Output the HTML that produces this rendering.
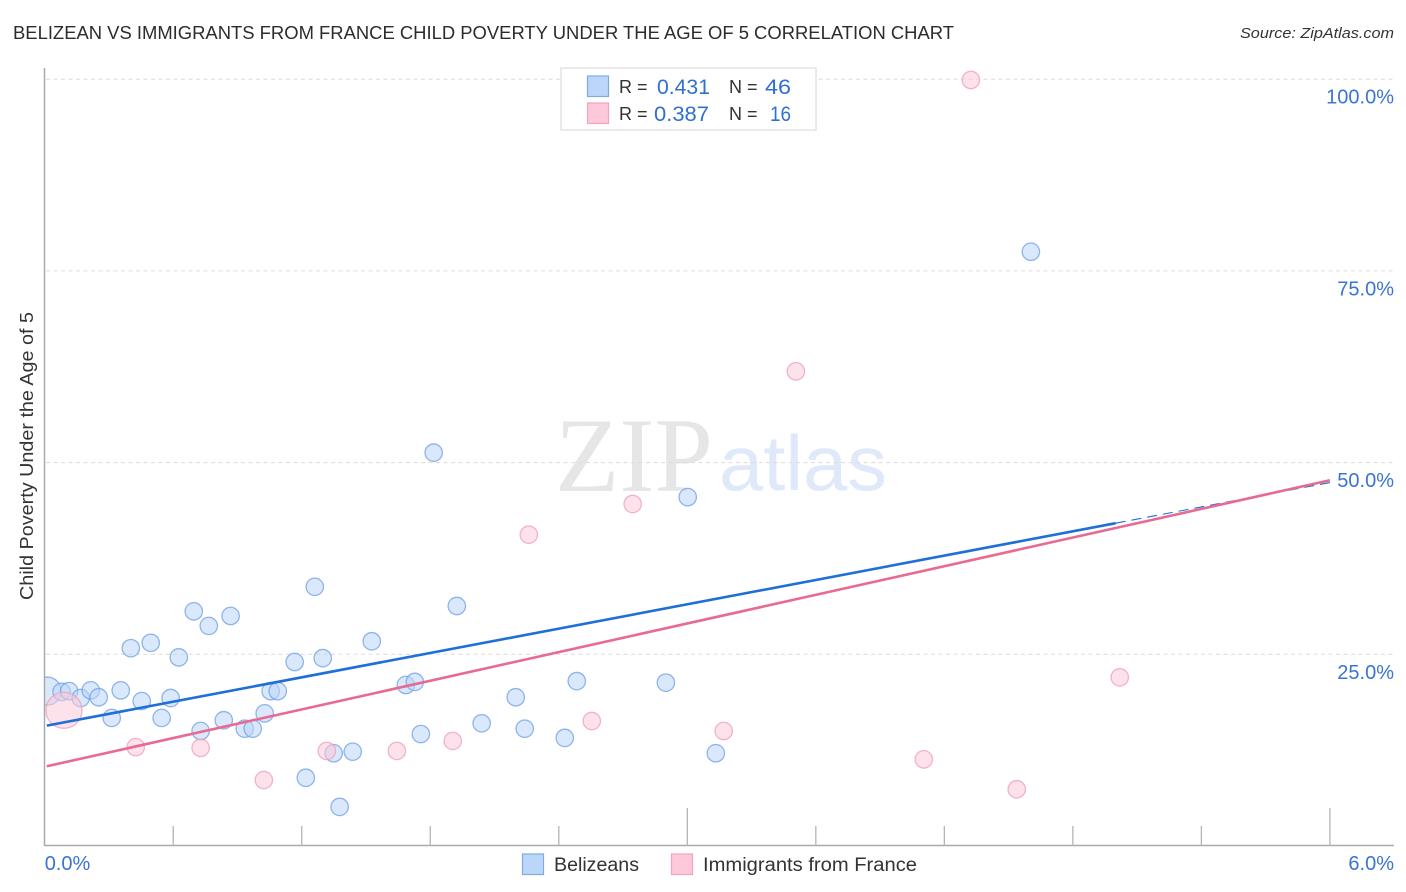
<!DOCTYPE html>
<html lang="en">
<head>
<meta charset="utf-8">
<title>Belizean vs Immigrants from France Child Poverty Under the Age of 5 Correlation Chart</title>
<style>
html,body{margin:0;padding:0;background:#fff;width:1406px;height:892px;overflow:hidden}
svg{display:block}
text{font-family:"Liberation Sans",sans-serif}
</style>
</head>
<body>
<svg id="chart" xmlns="http://www.w3.org/2000/svg" width="1406" height="892" viewBox="0 0 1406 892">
  <text x="13" y="39" font-size="18.5" fill="#2b2b30" textLength="941" lengthAdjust="spacingAndGlyphs">BELIZEAN VS IMMIGRANTS FROM FRANCE CHILD POVERTY UNDER THE AGE OF 5 CORRELATION CHART</text>
  <text x="1394" y="38" font-size="15" font-style="italic" fill="#333" text-anchor="end" textLength="154" lengthAdjust="spacingAndGlyphs">Source: ZipAtlas.com</text>

  <g>
    <text x="555" y="491" font-size="106" fill="#e6e6e6" textLength="158" lengthAdjust="spacingAndGlyphs" style="font-family:'Liberation Serif',serif">ZIP</text>
    <text x="719" y="490" font-size="78" fill="#dfe9fa" textLength="168" lengthAdjust="spacingAndGlyphs">atlas</text>
  </g>

  <g id="grid"></g>
  <g id="bluePts"></g>
  <g id="pinkPts"></g>
  <rect x="0" y="60" width="45" height="790" fill="#fff"/>
  <g id="axes"></g>
  <g id="trends"></g>
  <g id="labels"></g>

  <text transform="translate(33,456) rotate(-90)" font-size="18.5" fill="#333" text-anchor="middle" textLength="288" lengthAdjust="spacingAndGlyphs">Child Poverty Under the Age of 5</text>

  <g>
    <rect x="561" y="68" width="255" height="62" fill="#fff" stroke="#e4e4e4" stroke-width="1.5"/>
    <rect x="587.5" y="76" width="21" height="20.5" fill="#bcd6f9" stroke="#7faae6" stroke-width="1.2"/>
    <rect x="587.5" y="103" width="21" height="20.5" fill="#fcc8da" stroke="#f3a3bd" stroke-width="1.2"/>
    <text x="619" y="93" font-size="18" fill="#333">R =</text>
    <text x="657" y="94" font-size="21" fill="#2f6fd0" textLength="53" lengthAdjust="spacingAndGlyphs">0.431</text>
    <text x="729" y="93" font-size="18" fill="#333">N =</text>
    <text x="765" y="94" font-size="21" fill="#2f6fd0" textLength="26" lengthAdjust="spacingAndGlyphs">46</text>
    <text x="619" y="120" font-size="18" fill="#333">R =</text>
    <text x="654" y="121" font-size="21" fill="#2f6fd0" textLength="55" lengthAdjust="spacingAndGlyphs">0.387</text>
    <text x="729" y="120" font-size="18" fill="#333">N =</text>
    <text x="770" y="121" font-size="21" fill="#2f6fd0" textLength="21" lengthAdjust="spacingAndGlyphs">16</text>
  </g>

  <g>
    <rect x="522.5" y="854" width="21" height="20.5" fill="#bcd6f9" stroke="#7faae6" stroke-width="1.2"/>
    <text x="554" y="871" font-size="19" fill="#333" textLength="85" lengthAdjust="spacingAndGlyphs">Belizeans</text>
    <rect x="671.5" y="854" width="21" height="20.5" fill="#fcc8da" stroke="#f3a3bd" stroke-width="1.2"/>
    <text x="703" y="871" font-size="19" fill="#333" textLength="214" lengthAdjust="spacingAndGlyphs">Immigrants from France</text>
  </g>
</svg>
<script>
const blueX = [0.012,0.079,0.114,0.168,0.215,0.252,0.313,0.355,0.402,0.453,0.495,0.546,0.588,0.626,0.696,0.728,0.766,0.836,0.868,0.934,0.971,1.027,1.055,1.088,1.167,1.219,1.261,1.298,1.349,1.377,1.438,1.527,1.686,1.728,1.756,1.816,1.924,2.040,2.199,2.241,2.428,2.484,2.900,3.002,3.133,4.604];
const blueY = [20.2,20.1,20.2,19.3,20.3,19.4,16.7,20.3,25.8,18.9,26.5,16.7,19.3,24.6,30.6,15.0,28.7,16.4,30.0,15.3,15.3,17.3,20.2,20.2,24.0,8.9,33.8,24.5,12.1,5.1,12.3,26.7,21.0,21.4,14.6,51.3,31.3,16.0,19.4,15.3,14.1,21.5,21.3,45.5,12.1,77.5];
const blueWeight = [2.6,1,1,1,1,1,1,1,1,1,1,1,1,1,1,1,1,1,1,1,1,1,1,1,1,1,1,1,1,1,1,1,1,1,1,1,1,1,1,1,1,1,1,1,1,1];
const pinkX = [0.09,0.425,0.728,1.023,1.317,1.644,1.905,2.260,2.554,2.745,3.170,3.507,4.104,4.324,4.538,5.019];
const pinkY = [17.7,12.9,12.8,8.6,12.4,12.4,13.7,40.6,16.3,44.6,15.0,61.9,11.3,99.9,7.4,22.0];
const pinkWeight = [4.3,1,1,1,1,1,1,1,1,1,1,1,1,1,1,1];
const yTickValues = [25,50,75,100];
const yTickLabels = ["25.0%","50.0%","75.0%","100.0%"];
const xTickValues = [0,0.6,1.2,1.8,2.4,3.0,3.6,4.2,4.8,5.4,6.0];
const xMajorTicks = [3.0,6.0];
const xEndValues = [0,6];
const xEndLabels = ["0.0%","6.0%"];
const blueTrendX = [0.01,5.0,6.0];
const blueTrendY = [15.7,42.1,47.4];
const pinkTrendX = [0.01,6.0];
const pinkTrendY = [10.4,47.7];

const NS = "http://www.w3.org/2000/svg";
const sx = v => 44.7 + v * 214.2;
const sy = v => 846 - v * 7.668;
const radius = w => 8.7 * Math.sqrt(w);

function make(parent, tag, attrs) {
  const el = document.createElementNS(NS, tag);
  for (const k in attrs) el.setAttribute(k, attrs[k]);
  parent.appendChild(el);
  return el;
}

const grid = document.getElementById("grid");
yTickValues.forEach(v => {
  const g = make(grid, "line", {x1: 46, x2: 1394, y1: sy(v), y2: sy(v), stroke: "#dcdcdc", "stroke-width": 1, "stroke-dasharray": "4 3.5"});
  
  
});

const axes = document.getElementById("axes");
const yAxis = make(axes, "line", {x1: 44.5, x2: 44.5, y1: 68, y2: 846, stroke: "#aaa", "stroke-width": 1.5});


const xAxis = make(axes, "line", {x1: 44, x2: 1394, y1: 845.5, y2: 845.5, stroke: "#aaa", "stroke-width": 1.5});


xTickValues.forEach(v => {
  if (v === 0) return;
  const top = xMajorTicks.includes(v) ? 808 : 826;
  const t = make(axes, "line", {x1: sx(v), x2: sx(v), y1: top, y2: 846, stroke: "#b4b4b4", "stroke-width": 1.3});
  
  
});

function drawPoints(group, xs, ys, ws, fill, stroke, name) {
  xs.forEach((x, i) => {
    const c = make(group, "circle", {cx: sx(x), cy: sy(ys[i]), r: radius(ws[i]), fill: fill, "fill-opacity": 0.55, stroke: stroke, "stroke-opacity": 0.75, "stroke-width": 1.3});
    
    
  });
}
drawPoints(document.getElementById("bluePts"), blueX, blueY, blueWeight, "#bcd6f9", "#6f9fe3", "belizeans-point");
drawPoints(document.getElementById("pinkPts"), pinkX, pinkY, pinkWeight, "#fcc8da", "#ee9db8", "immigrants-point");

const trends = document.getElementById("trends");
const blueDash = make(trends, "line", {x1: sx(blueTrendX[1]), y1: sy(blueTrendY[1]), x2: sx(blueTrendX[2]), y2: sy(blueTrendY[2]), stroke: "#1f6fd8", "stroke-width": 1.1, "stroke-dasharray": "10 6"});


const blueSolid = make(trends, "line", {x1: sx(blueTrendX[0]), y1: sy(blueTrendY[0]), x2: sx(blueTrendX[1]), y2: sy(blueTrendY[1]), stroke: "#1f6fd8", "stroke-width": 2.6});


const pinkLine = make(trends, "line", {x1: sx(pinkTrendX[0]), y1: sy(pinkTrendY[0]), x2: sx(pinkTrendX[1]), y2: sy(pinkTrendY[1]), stroke: "#e86a92", "stroke-width": 2.6});



const labels = document.getElementById("labels");
yTickValues.forEach((v, i) => {
  const t = make(labels, "text", {x: 1394, y: sy(v) + 24.5, "font-size": 20, fill: "#3a74d4", "text-anchor": "end"});
  t.textContent = yTickLabels[i];
  
  
});
xEndValues.forEach((v, i) => {
  const attrs = v === 0 ? {x: sx(v), "text-anchor": "start"} : {x: 1394, "text-anchor": "end"};
  const t = make(labels, "text", Object.assign({y: 870, "font-size": 20, fill: "#3a74d4"}, attrs));
  t.textContent = xEndLabels[i];
  
  
});
</script>
</body>
</html>
